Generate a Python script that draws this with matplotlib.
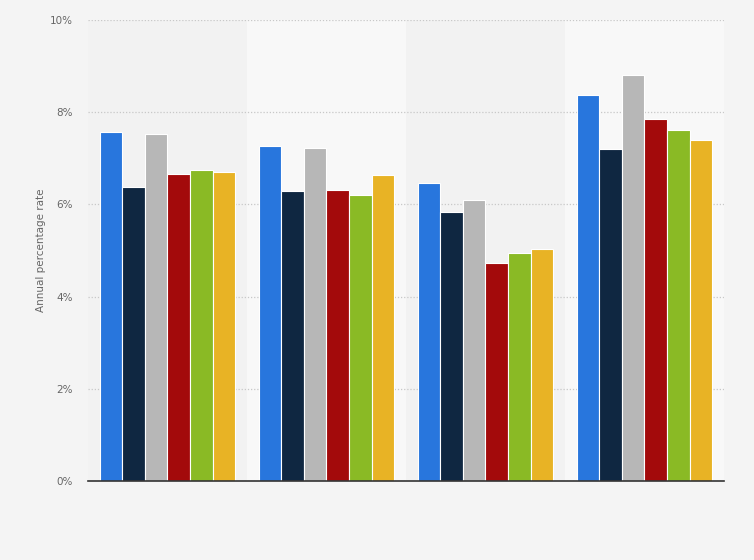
import matplotlib.pyplot as plt
import numpy as np

# four unnamed groups, six series each (values in %)
categories = ["A", "B", "C", "D"]
series_1 = [7.58, 7.27, 6.47, 8.38]
series_2 = [6.38, 6.30, 5.83, 7.21]
series_3 = [7.53, 7.23, 6.10, 8.80]
series_4 = [6.65, 6.32, 4.73, 7.86]
series_5 = [6.75, 6.20, 4.94, 7.62]
series_6 = [6.71, 6.64, 5.03, 7.40]
y_ticks = [0, 2, 4, 6, 8, 10]

series = [series_1, series_2, series_3, series_4, series_5, series_6]
colors = ["#2876dd", "#0f2741", "#b7b7b7", "#a30a0b", "#8aba25", "#e8b325"]

fig = plt.figure(figsize=(7.54, 5.60), dpi=100, facecolor="#f4f4f4")
ax = fig.add_axes([0.1167, 0.1411, 0.8435, 0.8232])
ax.set_facecolor("#f2f2f2")

x = np.arange(len(categories))
group_w = 0.85
bar_w = group_w / len(series)

# lighter band behind every second group
for i in x:
    if i % 2 == 1:
        ax.axvspan(i - 0.5, i + 0.5, color="#f8f8f8", zorder=0, lw=0)

for k, (vals, c) in enumerate(zip(series, colors)):
    offs = -group_w / 2 + bar_w * (k + 0.5)
    ax.bar(x + offs, vals, width=bar_w, color=c, edgecolor="white",
           linewidth=0.8, zorder=3)

ax.set_xlim(-0.5, len(categories) - 0.5)
ax.set_ylim(0, 10)
ax.set_yticks(y_ticks)
ax.set_yticklabels([f"{t}%" for t in y_ticks])
ax.set_xticks([])

ax.yaxis.grid(True, linestyle=(0, (1, 1.5)), color="#c8c8c8", linewidth=0.9, zorder=1)
ax.set_axisbelow(True)
for s in ["top", "right", "left"]:
    ax.spines[s].set_visible(False)
ax.spines["bottom"].set_color("#333333")
ax.spines["bottom"].set_linewidth(1.2)
ax.spines["bottom"].set_zorder(4)

ax.tick_params(axis="y", length=0, pad=11, labelsize=7.5, labelcolor="#666666")
ax.set_ylabel("Annual percentage rate", fontsize=7.5, color="#666666", labelpad=3)

fig.savefig("out.png", dpi=100, facecolor=fig.get_facecolor())
